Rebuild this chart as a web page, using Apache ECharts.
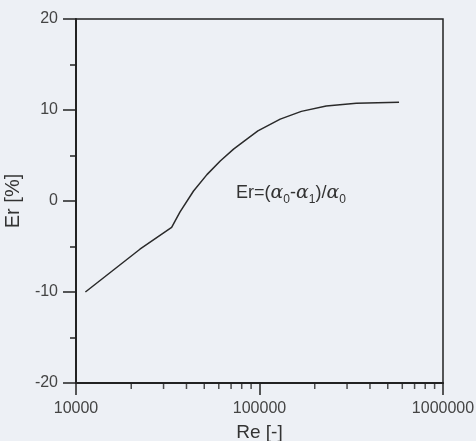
<!DOCTYPE html>
<html>
<head>
<meta charset="utf-8">
<script src="https://cdn.jsdelivr.net/npm/echarts@6/dist/echarts.min.js"></script>
<style>
  html, body { margin: 0; padding: 0; background: #edf0f5; }
  #chart { width: 476px; height: 441px; }
</style>
</head>
<body>
<div id="chart"></div>
<script>
// Re [-] on log axis, Er [%]
var reValues = [11250, 22300, 33200, 36900, 43700, 51700, 61100, 72200, 85300, 98000, 129700, 169000, 231000, 337000, 576000];
var erValues = [-10, -5.3, -2.9, -1.2, 1.1, 2.9, 4.4, 5.7, 6.8, 7.7, 9.0, 9.85, 10.45, 10.75, 10.85];
var xMinorTicks = [20000, 30000, 40000, 50000, 60000, 70000, 80000, 90000,
                   200000, 300000, 400000, 500000, 600000, 700000, 800000, 900000];

var lineData = reValues.map(function (re, i) { return [re, erValues[i]]; });
var minorData = xMinorTicks.map(function (v) { return [v, -20]; });

var labelColor = '#444';
var axisColor = '#222';
var font = 'Liberation Sans, Arial, sans-serif';

var myChart = echarts.init(document.getElementById('chart'));

var option = {
    backgroundColor: '#edf0f5',
    animation: false,
    grid: {
        left: 76,
        right: 33,
        top: 19,
        bottom: 58,
        outerBoundsMode: 'none',
        containLabel: false,
        show: true,
        borderColor: axisColor,
        borderWidth: 1.5,
        backgroundColor: 'transparent'
    },
    xAxis: {
        type: 'log',
        logBase: 10,
        min: 10000,
        max: 1000000,
        name: 'Re [-]',
        nameLocation: 'middle',
        nameGap: 40,
        nameTextStyle: { color: '#333', fontSize: 19, fontFamily: font },
        axisLine: { onZero: false, lineStyle: { color: axisColor, width: 2 } },
        axisTick: { length: 12, lineStyle: { color: axisColor, width: 1.5 } },
        axisLabel: {
            color: labelColor,
            fontSize: 16,
            fontFamily: font,
            margin: 18,
            formatter: function (v) { return String(Math.round(v)); }
        },
        splitLine: { show: false }
    },
    yAxis: {
        type: 'value',
        min: -20,
        max: 20,
        interval: 10,
        name: 'Er [%]',
        nameLocation: 'middle',
        nameGap: 52,
        nameTextStyle: { color: '#333', fontSize: 20, fontFamily: font },
        axisLine: { show: true, onZero: false, lineStyle: { color: axisColor, width: 2 } },
        axisTick: { show: true, length: 13, lineStyle: { color: axisColor, width: 1.5 } },
        minorTick: { show: true, splitNumber: 2, length: 6, lineStyle: { color: axisColor, width: 1.5 } },
        axisLabel: { color: labelColor, fontSize: 16, fontFamily: font, margin: 18 },
        splitLine: { show: false }
    },
    graphic: [{
        type: 'text',
        left: 236,
        top: 184,
        style: {
            text: '{n|Er=(}{a|α}{s|0}{n|-}{a|α}{s|1}{n|)/}{a|α}{s|0}',
            rich: {
                n: { fontSize: 18, fontFamily: font, fill: '#333', lineHeight: 24, verticalAlign: 'middle' },
                a: { fontSize: 19, fontFamily: 'DejaVu Serif, serif', fontStyle: 'italic', fill: '#333', lineHeight: 24, verticalAlign: 'middle' },
                s: { fontSize: 12, fontFamily: font, fill: '#333', lineHeight: 24, verticalAlign: 'bottom' }
            }
        }
    }],
    series: [
        {
            type: 'line',
            data: lineData,
            showSymbol: false,
            smooth: false,
            lineStyle: { color: '#2a2a2a', width: 1.5 }
        },
        {
            // minor ticks of the log x axis (2..9 per decade)
            type: 'scatter',
            data: minorData,
            symbol: 'rect',
            symbolSize: [1.5, 6],
            symbolOffset: [0, 3],
            clip: false,
            silent: true,
            itemStyle: { color: axisColor }
        }
    ]
};

myChart.setOption(option);
</script>
</body>
</html>
